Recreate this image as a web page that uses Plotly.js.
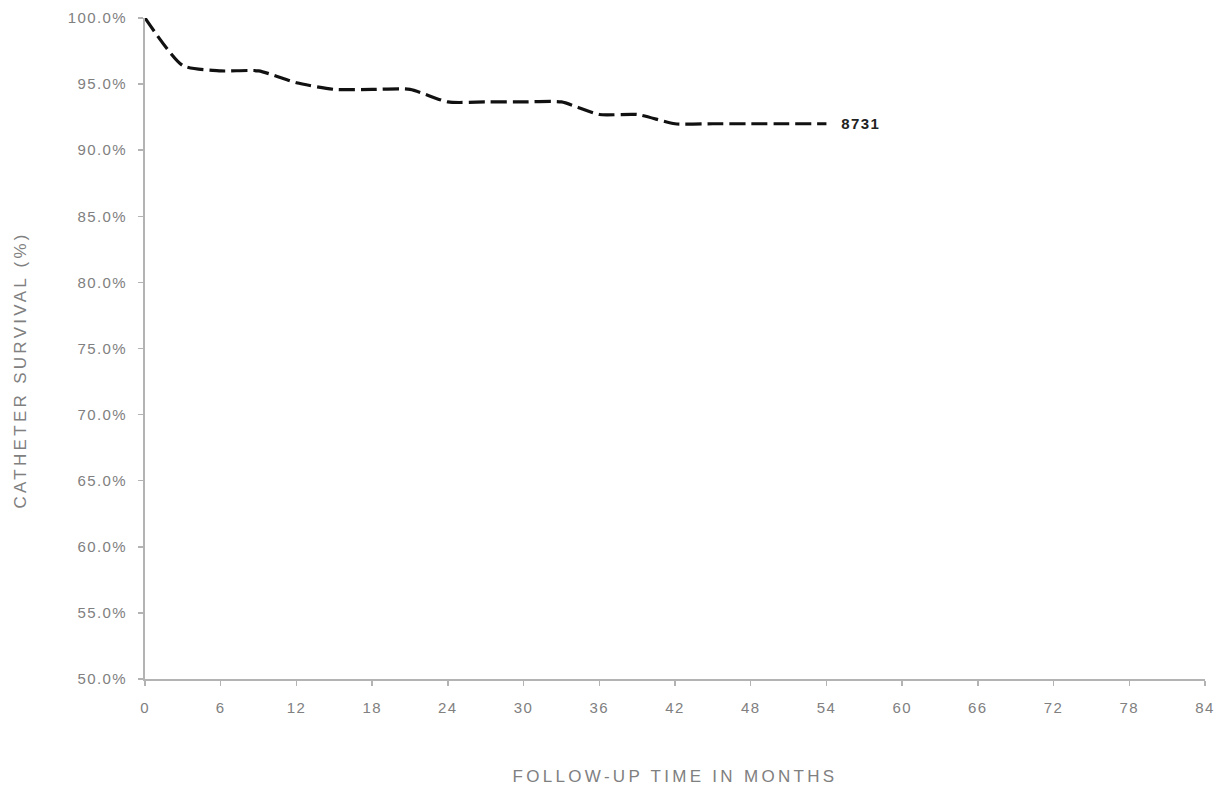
<!DOCTYPE html>
<html><head><meta charset="utf-8">
<script src="https://cdn.plot.ly/plotly-3.0.1.min.js"></script>
<style>
html,body{margin:0;padding:0;background:#fff}
#chart{width:1217px;height:791px}
#chart .xtick text, #chart .ytick text{letter-spacing:1.4px}
#chart .g-xtitle text{letter-spacing:3.3px}
#chart .annotation[data-index="0"] .annotation-text{letter-spacing:1.4px}
#chart .annotation[data-index="1"] .annotation-text{letter-spacing:3.3px}
</style>
</head><body><div id="chart"></div>
<script>
const months = [0,3,6,9,12,15,18,21,24,27,30,33,36,39,42,45,48,51,54];
const survival = [100,96.4,96.0,96.0,95.1,94.6,94.6,94.6,93.65,93.65,93.65,93.65,92.7,92.7,92.0,92.0,92.0,92.0,92.0];
const endLabel = "8731";
const xTicks = [0,6,12,18,24,30,36,42,48,54,60,66,72,78,84];
const yTicks = [50,55,60,65,70,75,80,85,90,95,100];
const yTitle = 'CATHETER SURVIVAL (%)';
const xTitle = 'FOLLOW-UP TIME IN MONTHS';

const trace = {
  x: months, y: survival, type: 'scatter', mode: 'lines',
  line: {color: '#111', width: 3.2, dash: '16px,6px', shape: 'spline', smoothing: 0.6},
  hoverinfo: 'skip'
};
const layout = {
  width: 1217, height: 791,
  margin: {l: 145, r: 12, t: 18, b: 112},
  paper_bgcolor: '#fff', plot_bgcolor: '#fff',
  showlegend: false,
  font: {family: 'Liberation Sans, Arial, sans-serif', color: '#808080'},
  xaxis: {
    range: [0, 84], tickvals: xTicks, ticktext: xTicks.map(String),
    showgrid: false, zeroline: false, showline: true, linecolor: '#b3b3b3', linewidth: 2,
    ticks: 'outside', ticklen: 5, tickcolor: '#b3b3b3', tickwidth: 1.5, ticklabelstandoff: 9,
    tickfont: {size: 15, color: '#808080'},
    title: {text: xTitle, font: {size: 17, color: '#808080'}, standoff: 55}
  },
  yaxis: {
    range: [50, 100], tickvals: yTicks, ticktext: yTicks.map(v => v.toFixed(1) + '%'),
    showgrid: false, zeroline: false, showline: true, linecolor: '#b3b3b3', linewidth: 2,
    ticks: 'outside', ticklen: 5, tickcolor: '#b3b3b3', tickwidth: 1.5, ticklabelstandoff: 8,
    tickfont: {size: 15, color: '#808080'}
  },
  annotations: [{
    x: months[months.length - 1], y: survival[survival.length - 1],
    xref: 'x', yref: 'y', text: '<b>' + endLabel + '</b>', showarrow: false,
    xanchor: 'left', xshift: 16, font: {size: 15, color: '#222'}
  }, {
    x: 0, y: 0.4675, xref: 'paper', yref: 'paper', text: yTitle, showarrow: false,
    textangle: -90, xanchor: 'center', yanchor: 'middle', xshift: -124,
    font: {size: 17, color: '#808080'}
  }]
};
Plotly.newPlot('chart', [trace], layout, {displayModeBar: false, staticPlot: true});
</script></body></html>
